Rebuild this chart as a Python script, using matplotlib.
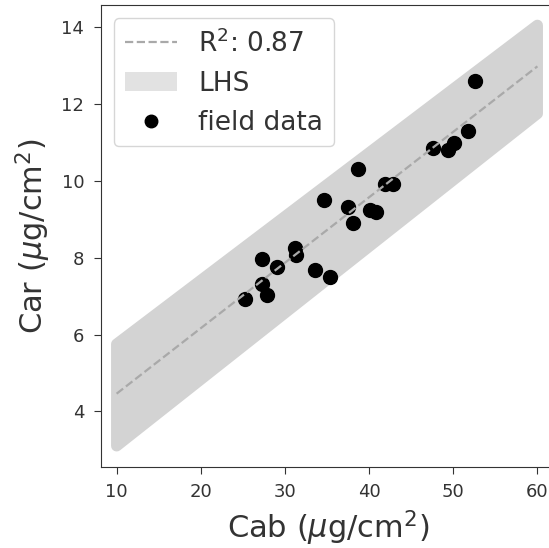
import matplotlib.pyplot as plt
import matplotlib.patches as mpatches
import numpy as np

cab = [52.63, 51.76, 50.06, 49.35, 47.60, 38.65, 41.91, 42.82, 34.66, 37.45, 40.15,
       40.86, 38.04, 31.22, 31.34, 27.22, 29.01, 33.58, 35.33, 27.26, 27.89, 25.27]
car = [12.60, 11.29, 10.99, 10.79, 10.86, 10.30, 9.93, 9.91, 9.51, 9.31, 9.23,
       9.19, 8.89, 8.24, 8.08, 7.97, 7.75, 7.69, 7.49, 7.31, 7.04, 6.92]

# LHS envelope (corners) and regression line
lhs_cab = [10, 60]
lhs_car_low = [3.1, 11.75]
lhs_car_high = [5.75, 14.05]
fit_cab = [10, 60]
fit_car = [4.46, 12.98]
r2 = 0.87

txt = '#333333'
plt.rcParams['text.color'] = txt
plt.rcParams['axes.labelcolor'] = txt
plt.rcParams['xtick.color'] = txt
plt.rcParams['ytick.color'] = txt

fig = plt.figure(figsize=(5.49, 5.48), dpi=100)
ax = fig.add_axes([0.1836, 0.1484, 0.829, 0.842])

band_x = lhs_cab + lhs_cab[::-1]
band_y = lhs_car_low + lhs_car_high[::-1]
ax.fill(band_x, band_y, facecolor='#d3d3d3', edgecolor='#d3d3d3', linewidth=8,
        joinstyle='round', zorder=1)
ax.scatter(cab, car, s=100, color='black', zorder=2)
ax.plot(fit_cab, fit_car, '--', color='#a9a9a9', linewidth=1.6, zorder=3)

handles = [
    plt.Line2D([], [], ls='--', color='#a9a9a9', linewidth=1.6),
    mpatches.Patch(facecolor='#e2e2e2', edgecolor='none'),
    plt.Line2D([], [], ls='', marker='o', markersize=9, color='black'),
]
labels = ['R$^2$: %.2f' % r2, 'LHS', 'field data']
ax.legend(handles, labels, loc='upper left', fontsize=19, handlelength=2.0,
          borderaxespad=0.5)

ax.set_xlim(8.12, 62.2)
ax.set_ylim(2.56, 14.57)
ax.set_xticks([10, 20, 30, 40, 50, 60])
ax.set_yticks([4, 6, 8, 10, 12, 14])
ax.tick_params(labelsize=13, length=5, pad=7)
for s in ax.spines.values():
    s.set_color(txt)
ax.spines['right'].set_visible(False)  # cut off in the original
ax.set_xlabel('Cab ($\\mu$g/cm$^2$)', fontsize=22, labelpad=5)
ax.set_ylabel('Car ($\\mu$g/cm$^2$)', fontsize=22, labelpad=6)

fig.savefig('out.png', dpi=100)
